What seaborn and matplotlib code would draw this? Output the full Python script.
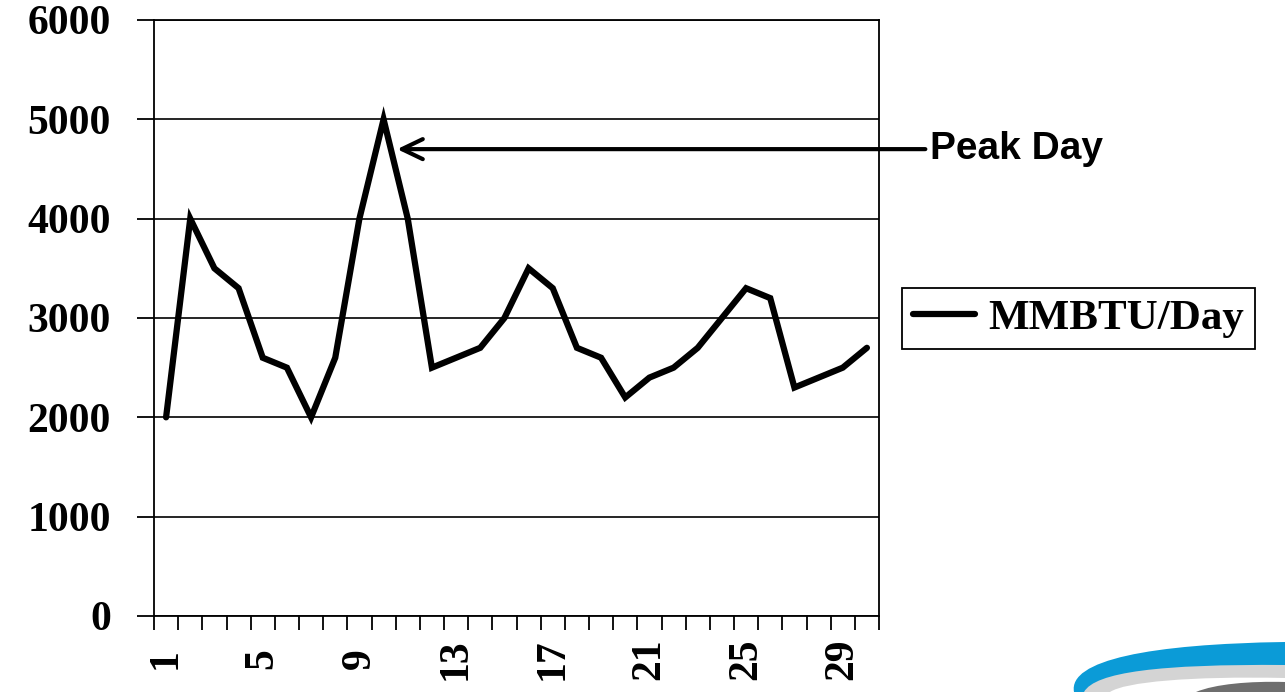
import numpy as np
import pandas as pd
import seaborn as sns
import matplotlib
matplotlib.use("Agg")
import matplotlib.pyplot as plt
from matplotlib.path import Path
from matplotlib.patches import PathPatch

# Daily gas demand for one month
days = list(range(1, 31))
mmbtu = [2000, 4000, 3500, 3300, 2600, 2500, 2000, 2600, 4000, 5000,
         4000, 2500, 2600, 2700, 3000, 3500, 3300, 2700, 2600, 2200,
         2400, 2500, 2700, 3000, 3300, 3200, 2300, 2400, 2500, 2700]
series_name = "MMBTU/Day"
x_tick_labels = [1, 5, 9, 13, 17, 21, 25, 29]
y_ticks = [0, 1000, 2000, 3000, 4000, 5000, 6000]
peak_label = "Peak Day"

df = pd.DataFrame({"Day": days, series_name: mmbtu})

sns.set_theme(style="white")
plt.rcParams["font.family"] = ["Liberation Serif", "DejaVu Serif"]
plt.rcParams["font.weight"] = "bold"
plt.rcParams["text.color"] = "black"
plt.rcParams["xtick.color"] = "black"
plt.rcParams["ytick.color"] = "black"
plt.rcParams["xtick.labelcolor"] = "black"
plt.rcParams["ytick.labelcolor"] = "black"

W, H = 1285, 692
fig = plt.figure(figsize=(W / 100, H / 100), dpi=100)
ax = fig.add_axes([154 / W, 1 - 616 / H, 725 / W, 596 / H])

sns.lineplot(data=df, x="Day", y=series_name, ax=ax, color="black",
             linewidth=4.5, label=series_name, solid_joinstyle="miter")

ax.set_xlim(0.5, 30.5)
ax.set_ylim(0, 6000)
ax.set_xlabel("")
ax.set_ylabel("")

# Y axis
ax.set_yticks(y_ticks)
ax.set_yticklabels([str(v) for v in y_ticks], fontsize=30, fontweight="bold",
                   color="black")
ax.tick_params(axis="y", direction="out", length=12, width=1.3,
               color="black", pad=19, left=True)
ax.yaxis.grid(True, color="black", linewidth=1.2)
ax.xaxis.grid(False)

# X axis: labels every fourth day, ticks between days
ax.set_xticks(x_tick_labels)
ax.set_xticklabels([str(v) for v in x_tick_labels], fontsize=30,
                   fontweight="bold", rotation=90, va="center", color="black")
ax.set_xticks(np.arange(0.5, 31.0, 1.0), minor=True)
ax.tick_params(axis="x", which="major", length=0, pad=31, bottom=True)
ax.tick_params(axis="x", which="minor", direction="out", length=10,
               width=1.3, color="black", bottom=True)

for s in ax.spines.values():
    s.set_visible(True)
    s.set_color("black")
    s.set_linewidth(1.3)

# Legend box at the right
leg = ax.legend(loc="upper left", bbox_to_anchor=(902 / W, 1 - 288 / H),
                bbox_transform=fig.transFigure, borderaxespad=0,
                frameon=True, fancybox=False, edgecolor="black",
                prop={"family": "Liberation Serif", "weight": "bold", "size": 31},
                handlelength=1.45, handletextpad=0.3, borderpad=0.25)
leg.get_frame().set_linewidth(1.3)
leg.get_frame().set_alpha(1)
for ln in leg.get_lines():
    ln.set_linewidth(4.5)
for t in leg.get_texts():
    t.set_color("black")

# Peak-day callout: a level arrow from the label to the peak
peak_day = days[int(np.argmax(mmbtu))]
arrow_level = 4700
label_pos = fig.transFigure.inverted().transform(
    ax.transData.transform((0, arrow_level)))[1]
ax.annotate(peak_label, xy=(peak_day + 0.56, arrow_level),
            xytext=(930 / W, label_pos), textcoords="figure fraction",
            ha="left", va="center", fontsize=28, fontweight="bold",
            color="black", family=["Liberation Sans", "DejaVu Sans"],
            annotation_clip=False,
            arrowprops=dict(arrowstyle="->,head_length=0.75,head_width=0.36",
                            mutation_scale=20, lw=3, color="black",
                            shrinkA=1, shrinkB=0))

# Corner emblem
def fig_path(pts, codes):
    verts = [(x / W, 1 - y / H) for x, y in pts]
    return Path(verts, codes)

M, L, C, Z = Path.MOVETO, Path.LINETO, Path.CURVE4, Path.CLOSEPOLY
shadow = fig_path(
    [(1285, 662), (1160, 661), (1095, 670), (1082, 692), (1110, 692),
     (1125, 682), (1190, 676), (1285, 678), (1285, 662)],
    [M, C, C, C, L, C, C, C, Z])
fig.patches.append(PathPatch(shadow, facecolor="#d4d4d4", edgecolor="none",
                             transform=fig.transFigure))
dark = fig_path(
    [(1196, 692), (1215, 684), (1250, 681), (1285, 682), (1285, 692), (1196, 692)],
    [M, C, C, C, L, Z])
fig.patches.append(PathPatch(dark, facecolor="#6e6e6e", edgecolor="none",
                             transform=fig.transFigure))
swoosh = fig_path(
    [(1074, 692), (1068, 660), (1150, 644), (1285, 642), (1285, 665),
     (1160, 664), (1095, 672), (1084, 692), (1074, 692)],
    [M, C, C, C, L, C, C, C, Z])
fig.patches.append(PathPatch(swoosh, facecolor="#0b9bd7", edgecolor="none",
                             transform=fig.transFigure))

fig.savefig("out.png", dpi=100, facecolor="white")
